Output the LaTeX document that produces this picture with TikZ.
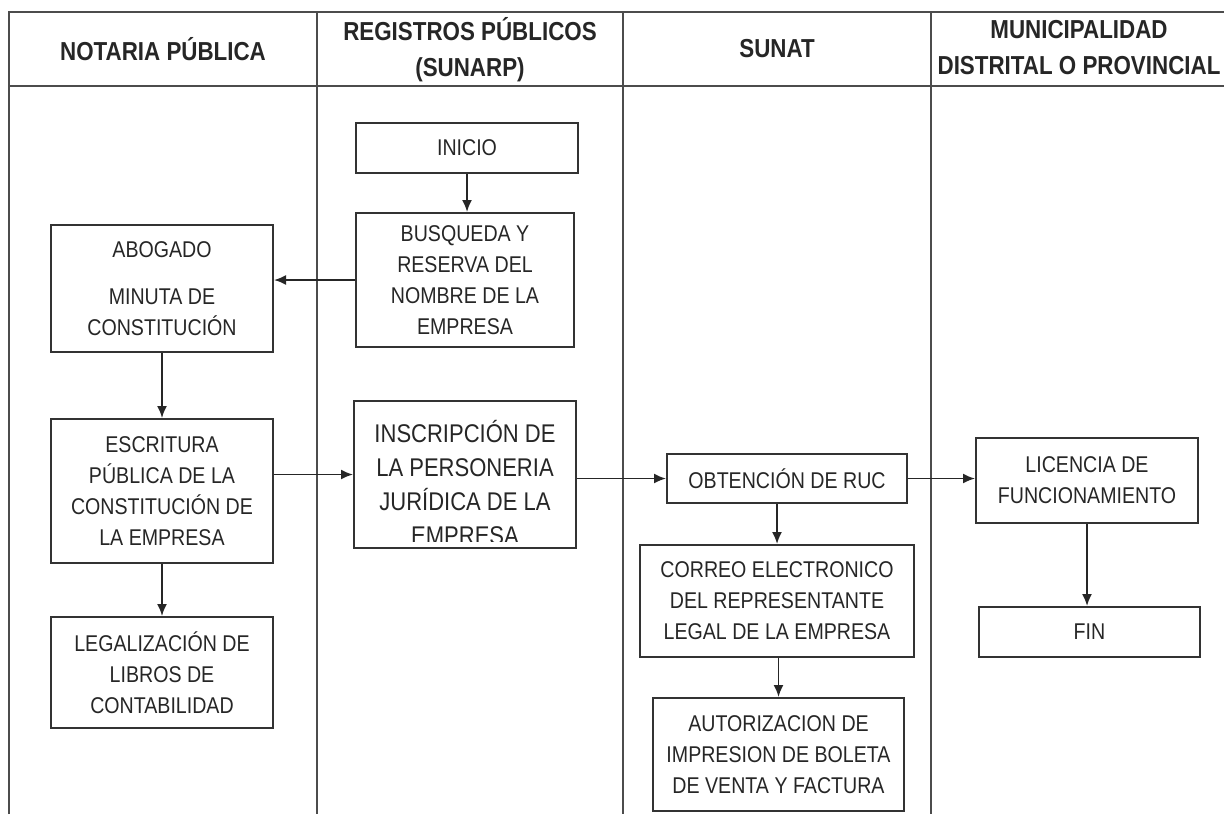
\documentclass[tikz,border=0pt]{standalone}
\usepackage{fontspec}
\setmainfont{Liberation Sans}[FakeStretch=0.86]
\usetikzlibrary{arrows.meta}
\begin{document}
\begin{tikzpicture}[
x=0.5pt, y=-0.5pt,
every node/.style={
align=center,
inner sep=0pt,
text=black!85,
font=\fontsize{11.4}{15.5}\selectfont
},
caja/.style={draw=black!80, line width=1pt},
titulo/.style={font=\fontsize{13}{18}\selectfont\bfseries},
carril/.style={draw=black!70, line width=1pt},
flecha/.style={-{Latex[length=6pt,width=5pt]}, draw=black!85, line width=0.9pt}
]

\useasboundingbox (0,0) rectangle (1224,814);

% carriles
\draw[carril] (9,814) -- (9,12) -- (1224,12);
\draw[carril] (9,86) -- (1224,86);
\foreach \x in {317,623,931}
\draw[carril] (\x,12) -- (\x,814);

\node[titulo] (hnot) at (163,49) {NOTARIA PÚBLICA};
\node[titulo] (hreg) at (470,50) {REGISTROS PÚBLICOS\\(SUNARP)};
\node[titulo] (hsun) at (777,49) {SUNAT};
\node[titulo] (hmun) at (1079,48) {MUNICIPALIDAD\\DISTRITAL O PROVINCIAL};

% pasos
\node[caja, minimum width=111pt, minimum height=25pt] (inicio) at (467,148)
{INICIO};

\node[caja, minimum width=109pt, minimum height=67pt] (busq) at (465,280)
{BUSQUEDA Y\\RESERVA DEL\\NOMBRE DE LA\\EMPRESA};

\node[caja, minimum width=111pt, minimum height=63.5pt] (abog) at (162,288.5)
{ABOGADO\\[8pt]MINUTA DE\\CONSTITUCIÓN};

\node[caja, minimum width=111pt, minimum height=72pt] (escr) at (162,491)
{ESCRITURA\\PÚBLICA DE LA\\CONSTITUCIÓN DE\\LA EMPRESA};

\node[caja, minimum width=111pt, minimum height=55.5pt] (legal) at (162,672.5)
{LEGALIZACIÓN DE\\LIBROS DE\\CONTABILIDAD};

\node[caja, minimum width=111pt, minimum height=73.5pt] (insc) at (465,474.5) {};
\begin{scope}
\clip (insc.north west) rectangle ([yshift=4pt]insc.south east);
\node[font=\fontsize{12.8}{17}\selectfont] (insct) at ([yshift=-4.25pt]insc.center)
{INSCRIPCIÓN DE\\LA PERSONERIA\\JURÍDICA DE LA\\EMPRESA};
\end{scope}

\node[caja, minimum width=120pt, minimum height=24.5pt] (obt) at (787,478.5)
{OBTENCIÓN DE RUC};

\node[caja, minimum width=137pt, minimum height=56pt] (corr) at (777,601)
{CORREO ELECTRONICO\\DEL REPRESENTANTE\\LEGAL DE LA EMPRESA};

\node[caja, minimum width=125.5pt, minimum height=56.5pt] (aut) at (778.5,754.5)
{AUTORIZACION DE\\IMPRESION DE BOLETA\\DE VENTA Y FACTURA};

\node[caja, minimum width=111pt, minimum height=42.5pt] (lic) at (1087,480.5)
{LICENCIA DE\\FUNCIONAMIENTO};

\node[caja, minimum width=110.5pt, minimum height=25pt] (fin) at (1089.5,632)
{FIN};

% flechas
\draw[flecha] (inicio.south) -- (inicio.south |- busq.north);
\draw[flecha] (busq.west) -- (busq.west -| abog.east);
\draw[flecha] (abog.south) -- (escr.north);
\draw[flecha] (escr.south) -- (legal.north);
\draw[flecha] (escr.east |- insc.west) -- (insc.west);
\draw[flecha] (insc.east |- obt.west) -- (obt.west);
\draw[flecha] (obt.east) -- (obt.east -| lic.west);
\draw[flecha] (obt.south -| corr.north) -- (corr.north);
\draw[flecha] (aut.north |- corr.south) -- (aut.north);
\draw[flecha] (lic.south) -- (lic.south |- fin.north);

\end{tikzpicture}
\end{document}
